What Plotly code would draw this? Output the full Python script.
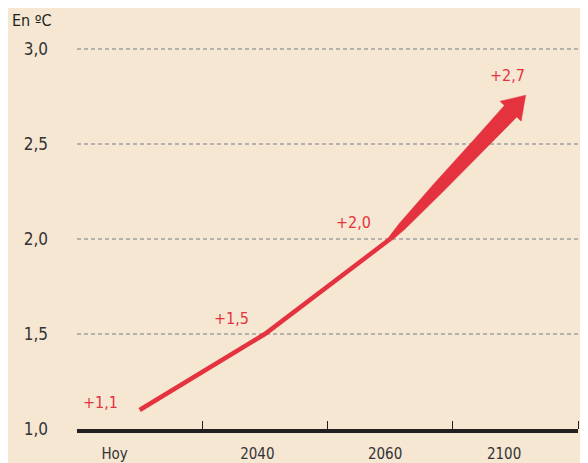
import numpy as np
import plotly.graph_objects as go

# ---- data ----
categories = ["Hoy", "2040", "2060", "2100"]
values = [1.1, 1.5, 2.0, 2.7]
value_labels = ["+1,1", "+1,5", "+2,0", "+2,7"]
y_ticks = [1.0, 1.5, 2.0, 2.5, 3.0]
y_tick_labels = ["1,0", "1,5", "2,0", "2,5", "3,0"]
unit_label = "En ºC"

# ---- layout constants ----
W, H = 588, 463
OFF = 8                      # default page (body) margin in the browser
L = 77 - OFF
R = W - (578 - OFF)
Y0_PX, Y3_PX = 429 - OFF, 49 - OFF   # figure rows of 1.0 and 3.0
B = H - Y0_PX
X_RANGE = [0, 4]
Y_RANGE = [1.0, 3.006]
RED = "#e5323f"
BG = "#f6e7d3"
INK = "#231f20"
FONT = "DejaVu Sans Condensed, Liberation Sans Narrow, sans-serif"

sy = (Y0_PX - Y3_PX) / 2.0
T = H - B - (Y_RANGE[1] - Y_RANGE[0]) * sy
sx = (W - L - R) / (X_RANGE[1] - X_RANGE[0])

xpos = [i + 0.5 for i in range(len(categories))]
label_offsets = [-0.2, -0.06, -0.04, -0.09]
label_pos = [x + o for x, o in zip(xpos, label_offsets)]


def to_px(x, y):
    return np.array([L + (x - X_RANGE[0]) * sx, T + (Y_RANGE[1] - y) * sy])


def to_data(p):
    return (p[0] - L) / sx + X_RANGE[0], Y_RANGE[1] - (p[1] - T) / sy


fig = go.Figure()

# line part (Hoy -> 2060)
fig.add_trace(go.Scatter(
    x=xpos[:3], y=values[:3], mode="lines",
    line=dict(color=RED, width=4.5), cliponaxis=False, hoverinfo="skip",
))

# tapered arrow (2060 -> 2100)
p2 = to_px(xpos[2], values[2])
p3 = to_px(xpos[3], values[3])
u = (p3 - p2) / np.linalg.norm(p3 - p2)
n = np.array([-u[1], u[0]])
tip = p3 + 15 * u
base = tip - 22 * u
prof_t = [0.0, 0.1, 0.4, 0.75, 1.0]
prof_w = [2.2, 4.0, 6.0, 7.2, 8.5]
left = [p2 + t * (base - p2) + w * n for t, w in zip(prof_t, prof_w)]
right = [p2 + t * (base - p2) - w * n for t, w in zip(prof_t, prof_w)]
poly = left + [base + 14.5 * n, tip, base - 14.5 * n] + right[::-1]
pts = [to_data(p) for p in poly]
fig.add_trace(go.Scatter(
    x=[p[0] for p in pts] + [pts[0][0]], y=[p[1] for p in pts] + [pts[0][1]],
    mode="lines", fill="toself", fillcolor=RED, line=dict(color=RED, width=0.5),
    cliponaxis=False, hoverinfo="skip",
))

# value labels
shifts = [(-39, 8), (-33, 16), (-37, 17), (-8, 31)]
for x, v, t, (dx, dy) in zip(xpos, values, value_labels, shifts):
    fig.add_annotation(x=x, y=v, text=t, showarrow=False, xshift=dx, yshift=dy,
                       font=dict(color=RED, size=16, family=FONT))

# unit label, top-left corner
fig.add_annotation(x=(10 - OFF - L) / (W - L - R), y=(H - B - (20 - OFF)) / (H - T - B),
                   xref="paper", yref="paper", text=unit_label, showarrow=False,
                   xanchor="left", yanchor="middle",
                   font=dict(color=INK, size=16, family=FONT))

fig.update_layout(
    width=W, height=H,
    margin=dict(l=L, r=R, t=T, b=B, autoexpand=False),
    paper_bgcolor=BG, plot_bgcolor=BG,
    showlegend=False,
    font=dict(family=FONT, color=INK, size=16),
    xaxis=dict(
        range=X_RANGE, showgrid=False, zeroline=False, automargin=False,
        showline=True, linecolor=INK, linewidth=3.5,
        tickmode="array", tickvals=label_pos, ticktext=categories,
        ticks="", ticklabelstandoff=8,
        tickfont=dict(size=15, color="#333333"),
        minor=dict(tickmode="array", tickvals=[1, 2, 3, 4], ticks="inside",
                   ticklen=8, tickwidth=1, tickcolor=INK, showgrid=False),
    ),
    yaxis=dict(
        range=Y_RANGE, tickmode="array", tickvals=y_ticks, ticktext=y_tick_labels,
        showgrid=True, gridcolor="#b5b2ad", gridwidth=1.5, griddash="4px,3px",
        zeroline=False, showline=False, ticks="", ticklabelstandoff=28,
        automargin=False, tickfont=dict(size=17, color="#333333"),
    ),
)

fig.write_html("out.html")
